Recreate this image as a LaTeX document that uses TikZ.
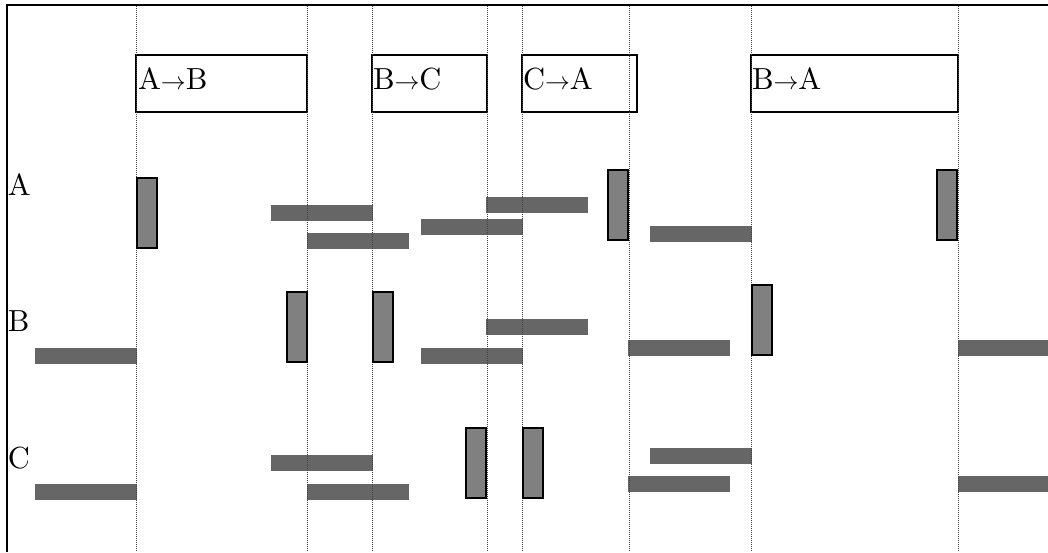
\documentclass[tikz,border=0pt]{standalone}
\usepackage{fontspec}
\setmainfont{lmroman10-regular.otf}
\newcommand{\myarrow}{$\rightarrow$}
\definecolor{hfill}{HTML}{666666}
\definecolor{vfill}{HTML}{808080}
\tikzset{
  hbar/.style={fill=hfill, draw=none, inner sep=0pt, outer sep=0pt, minimum width=102pt, minimum height=16pt, anchor=north west},
  vbar/.style={fill=vfill, draw=black, line width=2.4pt, inner sep=0pt, outer sep=0pt, minimum width=20pt, minimum height=70pt, anchor=north west},
  phase/.style={draw=black, line width=1.5pt, inner sep=0pt, outer sep=0pt, minimum height=57pt, anchor=north west},
  lbl/.style={anchor=base west, inner sep=0pt, outer sep=0pt, font=\fontsize{30.5}{35}\selectfont},
  guide/.style={black!75, line width=0.8pt, dash pattern=on 1pt off 1pt},
  framepen/.style={line width=2.8pt}
}
\begin{document}
\begin{tikzpicture}[x=1pt,y=-1pt]
\useasboundingbox (0,0) rectangle (1048,552);
% horizontal bars: row A
\node[hbar] (ha1) at (271,205) {};
\node[hbar] (ha2) at (307,233) {};
\node[hbar] (ha3) at (421,219) {};
\node[hbar] (ha4) at (486,197) {};
\node[hbar] (ha5) at (650,226) {};
% row B
\node[hbar] (hb1) at (35,348) {};
\node[hbar] (hb2) at (421,348) {};
\node[hbar] (hb3) at (486,319) {};
\node[hbar] (hb4) at (628,340) {};
\node[hbar, minimum width=90pt] (hb5) at (958,340) {};
% row C
\node[hbar] (hc1) at (35,484) {};
\node[hbar] (hc2) at (271,455) {};
\node[hbar] (hc3) at (307,484) {};
\node[hbar] (hc4) at (650,448) {};
\node[hbar] (hc5) at (628,476) {};
\node[hbar, minimum width=90pt] (hc6) at (958,476) {};
% phase boxes
\node[phase, minimum width=171pt] (p1) at (136,55) {};
\node[phase, minimum width=115pt] (p2) at (372,55) {};
\node[phase, minimum width=115pt] (p3) at (522,55) {};
\node[phase, minimum width=207pt] (p4) at (751,55) {};
\node[lbl] (t1) at (138,89) {A\myarrow B};
\node[lbl] (t2) at (373,89) {B\myarrow C};
\node[lbl] (t3) at (523,89) {C\myarrow A};
\node[lbl] (t4) at (752,89) {B\myarrow A};
% guide lines
\foreach \gx [count=\i] in {136,307,372,487,522,629,751,958}{
  \coordinate (gt\i) at (\gx,6);
  \coordinate (gb\i) at (\gx,552);
  \draw[guide] (gt\i) -- (gb\i);
}
% vertical activity bars
\node[vbar] (va1) at (137,178) {};
\node[vbar] (va2) at (608,170) {};
\node[vbar] (va3) at (937,170) {};
\node[vbar] (vb1) at (287,292) {};
\node[vbar] (vb2) at (373,292) {};
\node[vbar] (vb3) at (752,285) {};
\node[vbar] (vc1) at (466,428) {};
\node[vbar] (vc2) at (523,428) {};
% row labels
\node[lbl] (ra) at (8,195) {A};
\node[lbl] (rb) at (8,331) {B};
\node[lbl] (rc) at (8,468) {C};
% frame
\coordinate (f1) at (7,552);
\coordinate (f2) at (7,5);
\coordinate (f3) at (1048,5);
\draw[framepen] (f1) -- (f2) -- (f3);
\end{tikzpicture}
\end{document}
